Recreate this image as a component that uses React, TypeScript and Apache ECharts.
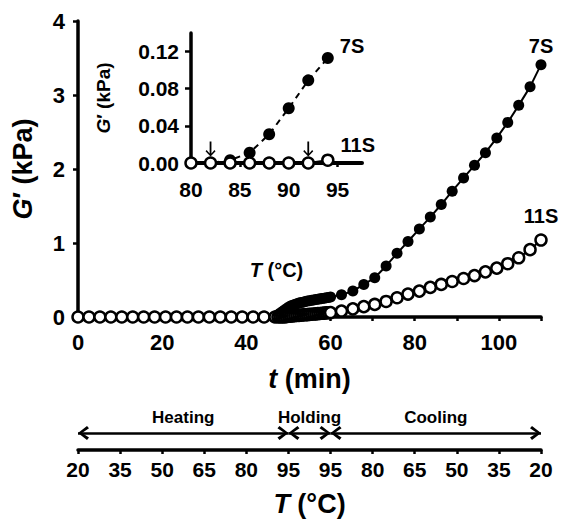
import React, { useEffect, useRef } from "react";
import * as echarts from "echarts";

const FONT = "'Liberation Sans', Arial, sans-serif";

// ---- Main plot: time (min) vs G' (kPa) ----
const tHeating = [0, 2.6, 5.2, 7.8, 10.4, 13, 15.6, 18.2, 20.8, 23.4, 26, 28.6, 31.2, 33.8, 36.4, 39, 41.6, 44.2, 46.8];
const g7Heating = [0, 0, 0, 0, 0, 0, 0, 0, 0, 0, 0, 0, 0, 0, 0, 0, 0, 0, 0.01];
const g11Heating = [0, 0, 0, 0, 0, 0, 0, 0, 0, 0, 0, 0, 0, 0, 0, 0, 0, 0, 0];

const tHolding = [47.5, 48, 48.5, 49, 49.5, 50, 50.5, 51, 51.5, 52, 52.5, 53, 53.5, 54, 54.5, 55, 55.5, 56, 56.5, 57, 57.5, 58, 58.5, 59, 59.5, 60];
const g7Holding = [0.03, 0.05, 0.07, 0.09, 0.11, 0.13, 0.15, 0.16, 0.17, 0.18, 0.19, 0.195, 0.2, 0.21, 0.215, 0.22, 0.225, 0.23, 0.235, 0.24, 0.245, 0.25, 0.255, 0.26, 0.265, 0.27];
const g11Holding = [0, 0, 0, 0, 0.005, 0.01, 0.012, 0.015, 0.018, 0.02, 0.022, 0.025, 0.028, 0.03, 0.032, 0.035, 0.037, 0.04, 0.042, 0.045, 0.047, 0.05, 0.052, 0.055, 0.058, 0.06];

const tCooling = [62.6, 65.3, 67.9, 70.5, 73.2, 75.8, 78.4, 81.1, 83.7, 86.3, 88.9, 91.6, 94.2, 96.8, 99.5, 102.1, 104.7, 107.4, 110];
const g7Cooling = [0.3, 0.35, 0.44, 0.53, 0.69, 0.86, 1.02, 1.19, 1.35, 1.52, 1.7, 1.88, 2.05, 2.22, 2.42, 2.63, 2.86, 3.11, 3.41];
const g11Cooling = [0.08, 0.11, 0.14, 0.17, 0.21, 0.26, 0.31, 0.35, 0.4, 0.44, 0.48, 0.52, 0.56, 0.61, 0.66, 0.72, 0.8, 0.91, 1.04];

// ---- Inset: T (°C) vs G' (kPa) ----
const insetTemp = [80, 82, 84, 86, 88, 90, 92, 94];
const inset7S = [0, 0, 0.003, 0.011, 0.031, 0.059, 0.089, 0.113];
const inset11S = [0, 0, 0, 0, 0, 0, 0, 0.003];
const insetArrowTemps = [82, 92];
const insetYTicks = [0, 0.04, 0.08, 0.12];
const insetXTicks = [80, 85, 90, 95];

// ---- Bottom temperature programme ----
const phaseNames = ["Heating", "Holding", "Cooling"];
const phaseStart = [0, 50, 60];
const phaseEnd = [50, 60, 110];
const bottomTempLabels = ["20", "35", "50", "65", "80", "95", "95", "80", "65", "50", "35", "20"];

const CHEV_LEFT = "path://M0,7 L9,0 L11,2.3 L4,7 L11,11.7 L9,14 Z";
const CHEV_RIGHT = "path://M11,7 L2,0 L0,2.3 L7,7 L0,11.7 L2,14 Z";
const ARROW_DOWN = "path://M4.1,0 L5.9,0 L5.9,12 L8.9,8.6 L10,9.7 L5,15 L0,9.7 L1.1,8.6 L4.1,12 Z";
const ARROW_ROW = 0.38;

function pairs(xs: number[], ys: number[], lastLabel?: any) {
  return xs.map((x, i) =>
    i === xs.length - 1 && lastLabel ? { value: [x, ys[i]], label: lastLabel } : [x, ys[i]]
  );
}

const txt = (size: number, extra: any = {}) => ({
  fontFamily: FONT,
  fontSize: size,
  fontWeight: "bold",
  color: "#000",
  ...extra,
});

function richName(size: number) {
  return {
    ...txt(size),
    rich: {
      i: txt(size, { fontStyle: "italic" }),
      n: txt(size),
    },
  };
}

export default function App() {
  const ref = useRef<HTMLDivElement>(null);
  useEffect(() => {
    const chart = echarts.init(ref.current!, null, { renderer: "svg" });
    const tAll = [...tHeating, ...tHolding, ...tCooling];
    const g7All = [...g7Heating, ...g7Holding, ...g7Cooling];
    const g11All = [...g11Heating, ...g11Holding, ...g11Cooling];

    const axisLine = (w: number) => ({ show: true, onZero: false, lineStyle: { color: "#000", width: w } });

    const chevrons: any[] = [];
    phaseNames.forEach((_, i) => {
      chevrons.push({ value: [phaseStart[i], ARROW_ROW], symbol: CHEV_LEFT, symbolOffset: [5.5, 0] });
      chevrons.push({ value: [phaseEnd[i], ARROW_ROW], symbol: CHEV_RIGHT, symbolOffset: [-5.5, 0] });
    });

    const option: any = {
      animation: false,
      backgroundColor: "#fff",
      textStyle: { fontFamily: FONT },
      grid: [
        { left: 78, top: 21, width: 463, height: 296 },
        { left: 191, top: 33, width: 171, height: 130 },
        { left: 78, top: 405, width: 463, height: 45 },
      ],
      xAxis: [
        {
          gridIndex: 0,
          type: "value",
          min: 0,
          max: 110,
          interval: 10,
          axisLine: axisLine(3.5),
          axisTick: { show: true, length: 4, lineStyle: { color: "#000", width: 2.5 } },
          axisLabel: { ...txt(22), margin: 14, formatter: (v: number) => (v % 20 === 0 ? String(v) : "") },
          splitLine: { show: false },
          name: "{i|t} {n|(min)}",
          nameLocation: "middle",
          nameGap: 48,
          nameTextStyle: richName(27),
        },
        {
          gridIndex: 1,
          type: "value",
          min: 80,
          max: 97.5,
          axisLine: axisLine(4),
          axisTick: { show: true, length: 4, customValues: insetXTicks, lineStyle: { color: "#000", width: 2.5 } },
          axisLabel: { ...txt(21), margin: 16, customValues: insetXTicks },
          splitLine: { show: false },
          name: "{i|T} {n|(°C)}",
          nameLocation: "middle",
          nameGap: 97,
          nameTextStyle: richName(20),
        },
        {
          gridIndex: 2,
          type: "value",
          min: 0,
          max: 110,
          interval: 10,
          axisLine: axisLine(3.5),
          axisTick: { show: true, length: 4, lineStyle: { color: "#000", width: 2.5 } },
          axisLabel: { ...txt(21), margin: 9, formatter: (v: number) => bottomTempLabels[Math.round(v / 10)] ?? "" },
          splitLine: { show: false },
          name: "{i|T} {n|(°C)}",
          nameLocation: "middle",
          nameGap: 40,
          nameTextStyle: richName(27),
        },
      ],
      yAxis: [
        {
          gridIndex: 0,
          type: "value",
          min: 0,
          max: 4,
          interval: 1,
          axisLine: axisLine(3.5),
          axisTick: { show: true, length: 5, lineStyle: { color: "#000", width: 2.5 } },
          axisLabel: { ...txt(22), margin: 13 },
          splitLine: { show: false },
          name: "{i|G}{n|′ (kPa)}",
          nameLocation: "middle",
          nameGap: 42,
          nameTextStyle: richName(27),
        },
        {
          gridIndex: 1,
          type: "value",
          min: 0,
          max: 0.14,
          axisLine: axisLine(3.5),
          axisTick: { show: true, length: 6, customValues: insetYTicks, lineStyle: { color: "#000", width: 2.5 } },
          axisLabel: { ...txt(21), margin: 12, customValues: insetYTicks, formatter: (v: number) => v.toFixed(2) },
          splitLine: { show: false },
          name: "{i|G}{n|′ (kPa)}",
          nameLocation: "middle",
          nameGap: 78,
          nameTextStyle: richName(19),
        },
        { gridIndex: 2, type: "value", min: 0, max: 1, show: false },
      ],
      series: [
        {
          name: "7S",
          type: "line",
          xAxisIndex: 0,
          yAxisIndex: 0,
          symbol: "circle",
          symbolSize: 11,
          showAllSymbol: true,
          z: 2,
          itemStyle: { color: "#000" },
          lineStyle: { color: "#000", width: 2 },
          data: pairs(tAll, g7All, { show: true, formatter: "7S", position: "top", distance: 3, ...txt(20) }),
        },
        {
          name: "11S",
          type: "line",
          xAxisIndex: 0,
          yAxisIndex: 0,
          symbol: "circle",
          symbolSize: 11,
          showAllSymbol: true,
          z: 3,
          itemStyle: { color: "#fff", borderColor: "#000", borderWidth: 2.5 },
          lineStyle: { color: "#000", width: 2 },
          data: pairs(tAll, g11All, { show: true, formatter: "11S", position: "top", distance: 7, ...txt(20) }),
        },
        {
          name: "7S inset",
          type: "line",
          xAxisIndex: 1,
          yAxisIndex: 1,
          symbol: "circle",
          symbolSize: 12,
          showAllSymbol: true,
          z: 2,
          itemStyle: { color: "#000" },
          lineStyle: { color: "#000", width: 2, type: [6, 5] },
          data: pairs(insetTemp, inset7S, { show: true, formatter: "7S", position: "right", distance: 6, offset: [0, -12], ...txt(20) }),
        },
        {
          name: "11S inset",
          type: "line",
          xAxisIndex: 1,
          yAxisIndex: 1,
          symbol: "circle",
          symbolSize: 11,
          showAllSymbol: true,
          z: 3,
          itemStyle: { color: "#fff", borderColor: "#000", borderWidth: 2.5 },
          lineStyle: { color: "#000", width: 2 },
          data: pairs(insetTemp, inset11S, { show: true, formatter: "11S", position: "right", distance: 6, offset: [0, -15], ...txt(20) }),
        },
        {
          name: "inset arrows",
          type: "scatter",
          xAxisIndex: 1,
          yAxisIndex: 1,
          symbol: ARROW_DOWN,
          symbolSize: [10, 15],
          symbolOffset: [0, -14],
          z: 4,
          silent: true,
          itemStyle: { color: "#000", opacity: 1 },
          data: insetArrowTemps.map((t) => [t, 0]),
        },
        {
          name: "phase lines",
          type: "line",
          xAxisIndex: 2,
          yAxisIndex: 2,
          data: [],
          markLine: {
            silent: true,
            symbol: ["none", "none"],
            lineStyle: { color: "#000", width: 2.5, type: "solid" },
            label: { show: true, position: "middle", formatter: "{b}", distance: 7, ...txt(17) },
            data: phaseNames.map((p, i) => [
              { coord: [phaseStart[i], ARROW_ROW], name: p },
              { coord: [phaseEnd[i], ARROW_ROW] },
            ]),
          },
        },
        {
          name: "phase arrowheads",
          type: "scatter",
          xAxisIndex: 2,
          yAxisIndex: 2,
          symbolSize: [11, 14],
          silent: true,
          itemStyle: { color: "#000", opacity: 1 },
          data: chevrons,
        },
      ],
    };
    chart.setOption(option);
    return () => chart.dispose();
  }, []);
  return <div ref={ref} style={{ position: "fixed", left: 0, top: 0, width: 563, height: 520 }} />;
}
